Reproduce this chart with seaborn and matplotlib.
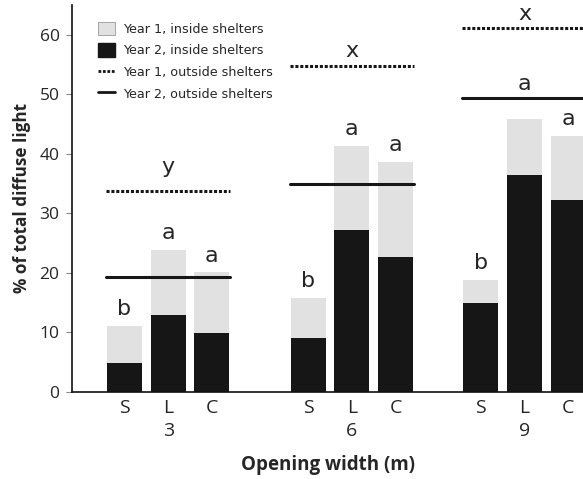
import numpy as np
import pandas as pd
import matplotlib
matplotlib.use('Agg')
import matplotlib.pyplot as plt
from matplotlib.patches import Patch
from matplotlib.lines import Line2D
import seaborn as sns

# values
widths = ['3', '6', '9']
shelters = ['S', 'L', 'C']
year1_inside = [11.1, 23.9, 20.1, 15.8, 41.3, 38.7, 18.8, 45.9, 43.0]
year2_inside = [4.9, 12.9, 9.9, 9.0, 27.2, 22.7, 14.9, 36.4, 32.3]
year1_outside = [33.8, 54.8, 61.1]
year2_outside = [19.3, 35.0, 49.3]
bar_letters = ['b', 'a', 'a', 'b', 'a', 'a', 'b', '', 'a']
year1_letters = ['y', 'x', 'x']
year2_letters = ['', '', 'a']

sns.set_style('ticks')
plt.rcParams['font.family'] = ['DejaVu Sans']

light = '#e1e1e1'
dark = '#161616'
dotted = (0, (1, 0.6))

# x layout: three bars per group, uneven gaps as in the original
group_start = [1.2, 5.4, 9.35]
pos = [g + i for g in group_start for i in range(len(shelters))]
df = pd.DataFrame({
    'pos': pos,
    'width': [w for w in widths for _ in shelters],
    'shelter': shelters * len(widths),
    'year1': year1_inside,
    'year2': year2_inside,
})

fig = plt.figure(figsize=(5.83, 4.79), dpi=100)
ax = fig.add_axes([0.1235, 0.1816, 0.8765, 0.808])

sns.barplot(data=df, x='pos', y='year1', native_scale=True, color=light,
            saturation=1, width=0.8, edgecolor='none', ax=ax)
sns.barplot(data=df, x='pos', y='year2', native_scale=True, color=dark,
            saturation=1, width=0.8, edgecolor='none', ax=ax)

# outside-shelter reference lines and their letters
for i, g in enumerate(group_start):
    x0, x1 = g - 0.42, g + 2.42
    ax.plot([x0, x1], [year1_outside[i]] * 2, color=dark, lw=2.2, ls=dotted,
            solid_capstyle='butt')
    ax.plot([x0, x1], [year2_outside[i]] * 2, color=dark, lw=2.2)
    off = 3.0 if year1_letters[i] == 'y' else 1.4
    ax.text(g + 1, year1_outside[i] + off, year1_letters[i], ha='center',
            va='baseline', fontsize=16)
    if year2_letters[i]:
        ax.text(g + 1, year2_outside[i] + 1.4, year2_letters[i], ha='center',
                va='baseline', fontsize=16)

for x, v, t in zip(pos, year1_inside, bar_letters):
    if t:
        ax.text(x, v + 1.8, t, ha='center', va='baseline', fontsize=16)

ax.set_xlim(0, 11.69)
ax.set_ylim(0, 65)
ax.set_yticks(range(0, 61, 10))
ax.set_yticklabels([str(v) for v in range(0, 61, 10)], fontfamily='Open Sans',
                   fontsize=12.5)
ax.set_xticks(pos)
ax.set_xticklabels([s + '\n' + w if s == 'L' else s for w in widths for s in shelters],
                   fontfamily='Open Sans', fontsize=14, linespacing=1.35)
for lab in ax.get_xticklabels():
    lab.set_verticalalignment('top')
ax.tick_params(axis='x', length=0, pad=5)
ax.tick_params(axis='y', length=4, width=0.8, color='#888888', pad=5)
ax.set_xlabel('Opening width (m)', fontfamily='Open Sans', fontweight='bold',
              fontsize=13.5, labelpad=11)
ax.set_ylabel('% of total diffuse light', fontfamily='Open Sans',
              fontweight='bold', fontsize=12.3, labelpad=6)
sns.despine(ax=ax)
for s in ['left', 'bottom']:
    ax.spines[s].set_color('#111111')
    ax.spines[s].set_linewidth(1.2)

handles = [
    Patch(facecolor=light, edgecolor='#999999', lw=0.6),
    Patch(facecolor=dark, edgecolor=dark),
    Line2D([], [], color=dark, lw=2, ls=dotted),
    Line2D([], [], color=dark, lw=2),
]
labels = ['Year 1, inside shelters', 'Year 2, inside shelters',
          'Year 1, outside shelters', 'Year 2, outside shelters']
ax.legend(handles, labels, loc='upper left', bbox_to_anchor=(0.04, 0.97),
          frameon=False, fontsize=9.2, handlelength=1.4, handleheight=1.25,
          handletextpad=0.6, labelspacing=0.6, borderaxespad=0)

fig.savefig('out.png', dpi=100)
